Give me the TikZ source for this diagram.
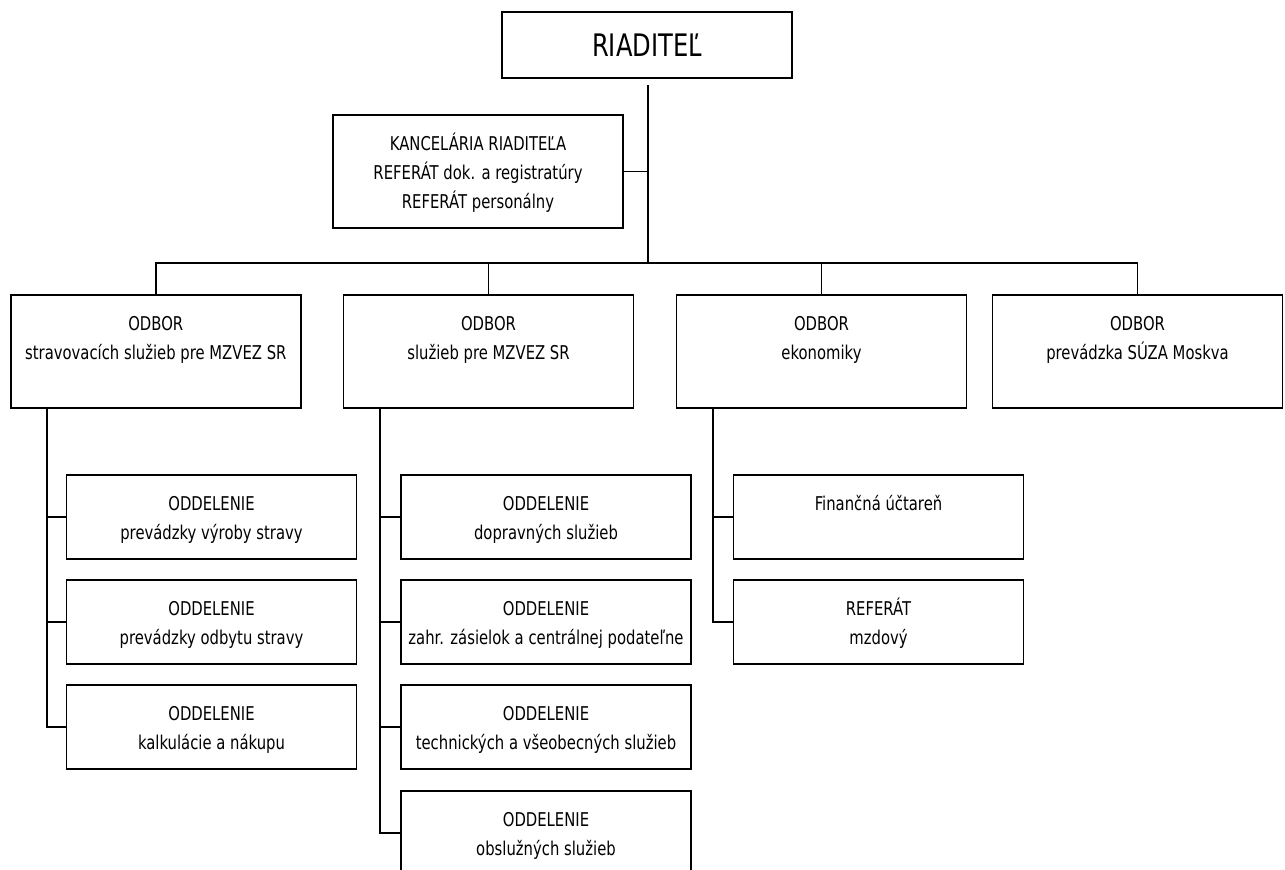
\documentclass[tikz,border=0pt]{standalone}
\usepackage{fontspec}
\setmainfont{DejaVu Sans}[FakeStretch=0.78]
\usetikzlibrary{positioning}

\newcommand{\toptext}[2]{\parbox[c][#1][t]{286pt}{\centering\rule{0pt}{35pt}#2}}

\tikzset{
  unit/.style={draw, line width=1.9pt, inner sep=0pt, minimum width=290pt,
    font=\fontsize{19}{29}\selectfont},
  dirbox/.style={unit, minimum height=66pt, font=\fontsize{31}{36}\selectfont},
  odborbox/.style={unit, minimum height=113pt},
  oddbox/.style={unit, minimum height=84pt},
  link/.style={line width=1.7pt},
}

\begin{document}
\begin{tikzpicture}[x=1pt, y=-1pt]
  \useasboundingbox (0,0) rectangle (1285,870);

  \node[dirbox] (dir) at (647,45) {RIADITEĽ};
  \node[odborbox] (kanc) at (478,171.5)
    {\toptext{113pt}{KANCELÁRIA RIADITEĽA\\REFERÁT dok. a registratúry\\REFERÁT personálny}};

  \coordinate (top) at (648,85);
  \coordinate (hub) at (648,263);
  \draw[link] (top) -- (hub);
  \draw[link] (kanc.east) -- (kanc.east -| hub);

  % odbory
  \node[odborbox] (o1) at (155.8,351.5) {\toptext{113pt}{ODBOR\\stravovacích služieb pre MZVEZ SR}};
  \node[odborbox] (o2) at (488.5,351.5) {\toptext{113pt}{ODBOR\\služieb pre MZVEZ SR}};
  \node[odborbox] (o3) at (821.5,351.5) {\toptext{113pt}{ODBOR\\ekonomiky}};
  \node[odborbox] (o4) at (1137.5,351.5) {\toptext{113pt}{ODBOR\\prevádzka SÚZA Moskva}};

  \draw[link] (o1.north) |- (hub) -| (o4.north);
  \draw[link] (o2.north) -- (o2.north |- hub);
  \draw[link] (o3.north) -- (o3.north |- hub);

  % oddelenia
  \node[oddbox] (s11) at (211.5,517) {\toptext{84pt}{ODDELENIE\\prevádzky výroby stravy}};
  \node[oddbox] (s12) at (211.5,622) {\toptext{84pt}{ODDELENIE\\prevádzky odbytu stravy}};
  \node[oddbox] (s13) at (211.5,727) {\toptext{84pt}{ODDELENIE\\kalkulácie a nákupu}};

  \node[oddbox] (s21) at (546,517) {\toptext{84pt}{ODDELENIE\\dopravných služieb}};
  \node[oddbox] (s22) at (546,622) {\toptext{84pt}{ODDELENIE\\zahr. zásielok a centrálnej podateľne}};
  \node[oddbox] (s23) at (546,727) {\toptext{84pt}{ODDELENIE\\technických a všeobecných služieb}};
  \node[oddbox] (s24) at (546,833) {\toptext{84pt}{ODDELENIE\\obslužných služieb}};

  \node[oddbox] (s31) at (878.5,517) {\toptext{84pt}{Finančná účtareň}};
  \node[oddbox] (s32) at (878.5,622) {\toptext{84pt}{REFERÁT\\mzdový}};

  \coordinate (t1) at (47,408);
  \coordinate (t2) at (380,408);
  \coordinate (t3) at (713,408);

  \foreach \s in {s11,s12} \draw[link] (t1 |- \s.west) -- (\s.west);
  \draw[link] (t1) |- (s13.west);
  \foreach \s in {s21,s22,s23} \draw[link] (t2 |- \s.west) -- (\s.west);
  \draw[link] (t2) |- (s24.west);
  \draw[link] (t3 |- s31.west) -- (s31.west);
  \draw[link] (t3) |- (s32.west);
\end{tikzpicture}
\end{document}
